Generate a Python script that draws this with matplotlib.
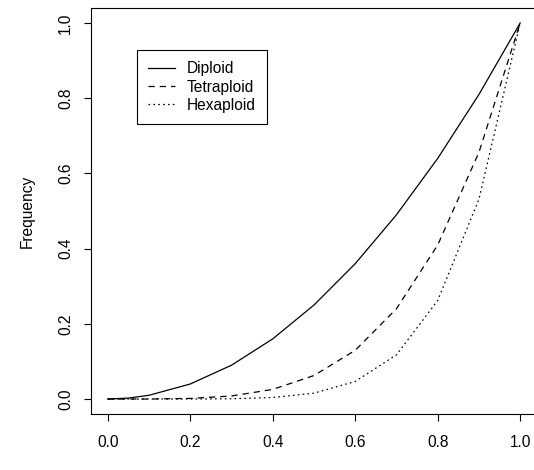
import matplotlib.pyplot as plt

# allele frequency values
freq = [0.0, 0.05, 0.1, 0.2, 0.3, 0.4, 0.5, 0.6, 0.7, 0.8, 0.9, 1.0]
diploid = [0.0, 0.0025, 0.01, 0.04, 0.09, 0.16, 0.25, 0.36, 0.49, 0.64, 0.81, 1.0]
tetraploid = [0.0, 0.0, 0.0001, 0.0016, 0.0081, 0.0256, 0.0625, 0.1296, 0.2401, 0.4096, 0.6561, 1.0]
hexaploid = [0.0, 0.0, 0.0, 0.0001, 0.0007, 0.0041, 0.0156, 0.0467, 0.1176, 0.2621, 0.5314, 1.0]
labels = ["Diploid", "Tetraploid", "Hexaploid"]
xticks = [0.0, 0.2, 0.4, 0.6, 0.8, 1.0]
yticks = [0.0, 0.2, 0.4, 0.6, 0.8, 1.0]

plt.rcParams["font.family"] = ["Liberation Sans", "DejaVu Sans"]
fs = 11.2

fig = plt.figure(figsize=(5.34, 4.7), dpi=100)
ax = fig.add_axes([0.171, 0.119, 0.834, 0.864])

lw = 0.9
ax.plot(freq, diploid, color="black", lw=lw, label=labels[0])
ax.plot(freq, tetraploid, color="black", lw=lw, dashes=(5, 4), label=labels[1])
ax.plot(freq, hexaploid, color="black", lw=lw, dashes=(1.3, 2.6), label=labels[2])

ax.set_xlim(-0.04, 1.04)
ax.set_ylim(-0.04, 1.04)
ax.set_xticks(xticks)
ax.set_yticks(yticks)
ax.set_xticklabels([f"{v:.1f}" for v in xticks])
ax.set_yticklabels([f"{v:.1f}" for v in yticks], rotation=90, va="center")
ax.tick_params(axis="both", direction="out", length=5, width=0.8,
               labelsize=fs, colors="black")
ax.tick_params(axis="x", pad=10)
ax.tick_params(axis="y", pad=8)
for s in ax.spines.values():
    s.set_linewidth(0.8)
ax.spines["right"].set_visible(False)

ax.set_ylabel("Frequency", fontsize=fs)
ax.yaxis.set_label_coords(-0.128, 0.5)

leg = ax.legend(loc="upper left", bbox_to_anchor=(0.102, 0.897),
                borderaxespad=0, fontsize=fs, fancybox=False,
                edgecolor="black", framealpha=1, handlelength=1.7,
                handletextpad=0.75, labelspacing=0.2, borderpad=0.75)
leg.get_frame().set_linewidth(0.8)

fig.savefig("out.png", dpi=100)
